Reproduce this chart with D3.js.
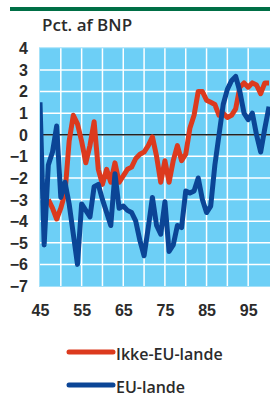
<!DOCTYPE html>
<html>
<head>
<meta charset="utf-8">
<script src="https://cdn.jsdelivr.net/npm/d3@7"></script>
<style>
  body { margin: 0; background: #fff; }
  svg { display: block; font-family: "Open Sans", "Noto Sans", sans-serif; }
  .tick text { fill: #2b2b2b; font-size: 16px; font-weight: 600; }
  .domain { display: none; }
</style>
</head>
<body>
<div id="chart"></div>
<script>
// Budgetsaldo, pct. af BNP
var years = d3.range(1945, 2001);
var euLande = [1.5, -5.1, -1.4, -0.8, 0.4, -2.9, -2.2, -3.2, -4.6, -6.0,
  -3.2, -3.5, -3.8, -2.4, -2.3, -3.0, -3.6, -4.2, -1.8, -3.4,
  -3.3, -3.5, -3.6, -4.0, -4.9, -5.6, -4.3, -2.9, -4.2, -4.6,
  -3.1, -5.4, -5.1, -4.2, -4.3, -2.6, -2.7, -2.6, -2.0, -3.0,
  -3.6, -3.3, -1.4, 0.0, 1.4, 2.1, 2.5, 2.7, 2.0, 1.0,
  0.7, 1.0, 0.0, -0.8, 0.3, 1.3];
var ikkeEuLande = [null, null, -3.0, -3.4, -3.9, -3.4, -2.7, -0.3, 0.9, 0.5,
  -0.3, -1.3, -0.5, 0.6, -1.6, -2.3, -1.6, -2.2, -1.3, -2.2,
  -1.9, -1.6, -1.5, -1.1, -0.9, -0.8, -0.5, -0.1, -1.0, -2.2,
  -1.2, -2.2, -1.2, -0.5, -1.2, -0.9, 0.3, 0.9, 2.0, 2.0,
  1.6, 1.5, 1.4, 0.9, 1.0, 0.8, 0.9, 1.2, 2.2, 2.4,
  2.2, 2.4, 2.3, 1.9, 2.4, 2.4];
var yTicks = [4, 3, 2, 1, 0, -1, -2, -3, -4, -5, -6, -7];
var xLabels = [1945, 1955, 1965, 1975, 1985, 1995];
var xGrid = [1950, 1955, 1960, 1965, 1970, 1975, 1980, 1985, 1990, 1995];
var series = [
  { name: "Ikke-EU-lande", values: ikkeEuLande, color: "#dc3a1e" },
  { name: "EU-lande", values: euLande, color: "#0b4596" }
];

var width = 270, height = 394;
var plot = { left: 40, right: 270, top: 48.3, bottom: 286 };

var x = d3.scaleLinear().domain([1945, 2000]).range([plot.left, 269]);
var y = d3.scaleLinear().domain([-7, 4]).range([plot.bottom, plot.top]);

var svg = d3.select("#chart").append("svg")
  .attr("width", width)
  .attr("height", height);

// green rule on top
svg.append("rect")
  .attr("x", 10).attr("y", 7)
  .attr("width", width - 10).attr("height", 4)
  .attr("fill", "#006f46");

svg.append("text")
  .attr("x", 42).attr("y", 30.5)
  .attr("fill", "#2b2b2b")
  .style("font-size", "17px")
  .style("font-weight", 600)
  .text("Pct. af BNP");

svg.append("clipPath").attr("id", "clip")
  .append("rect")
    .attr("x", plot.left).attr("y", plot.top)
    .attr("width", plot.right - plot.left)
    .attr("height", plot.bottom - plot.top);

svg.append("rect")
  .attr("x", plot.left - 0.5).attr("y", plot.top - 0.5)
  .attr("width", plot.right - plot.left + 1)
  .attr("height", plot.bottom - plot.top + 1)
  .attr("fill", "#6dcff6")
  .attr("stroke", "#a4e1f9")
  .attr("stroke-width", 1);

// grid
var grid = svg.append("g");
grid.selectAll("line.h")
  .data(yTicks.filter(d => d > -7 && d < 4))
  .enter().append("line")
    .attr("x1", plot.left).attr("x2", plot.right)
    .attr("y1", d => y(d)).attr("y2", d => y(d))
    .attr("stroke", "#fff").attr("stroke-width", 1.5);
grid.selectAll("line.v")
  .data(xGrid)
  .enter().append("line")
    .attr("x1", d => x(d)).attr("x2", d => x(d))
    .attr("y1", plot.top).attr("y2", plot.bottom)
    .attr("stroke", "#fff").attr("stroke-width", 1.5);

svg.append("line")
  .attr("x1", plot.left).attr("x2", plot.right)
  .attr("y1", y(0)).attr("y2", y(0))
  .attr("stroke", "#222").attr("stroke-width", 1.5);

// axes (labels only)
svg.append("g")
  .attr("transform", "translate(" + (plot.left - 12) + ",0)")
  .call(d3.axisLeft(y).tickValues(yTicks).tickSize(0).tickPadding(0))
  .call(g => g.selectAll(".tick text").attr("dy", "0.34em"));

svg.append("g")
  .attr("transform", "translate(0," + (plot.bottom + 19) + ")")
  .call(d3.axisBottom(x).tickValues(xLabels).tickSize(0).tickPadding(0)
    .tickFormat(d => String(d).slice(2)));

var line = d3.line()
  .defined(d => d[1] != null)
  .x(d => x(d[0]))
  .y(d => y(d[1]));

svg.append("g").attr("clip-path", "url(#clip)")
  .selectAll("path")
  .data(series)
  .enter().append("path")
    .attr("d", s => line(years.map((yr, i) => [yr, s.values[i]])))
    .attr("fill", "none")
    .attr("stroke", s => s.color)
    .attr("stroke-width", 5)
    .attr("stroke-linejoin", "round");

// legend
var legend = svg.selectAll("g.legend")
  .data(series)
  .enter().append("g")
    .attr("class", "legend")
    .attr("transform", (d, i) => "translate(0," + (352 + i * 33) + ")");
legend.append("line")
  .attr("x1", 69).attr("x2", 113)
  .attr("stroke", d => d.color)
  .attr("stroke-width", 5)
  .attr("stroke-linecap", "round");
legend.append("text")
  .attr("x", 116).attr("y", 7.5)
  .attr("fill", "#2b2b2b")
  .style("font-size", "16px")
  .style("font-weight", 600)
  .text(d => d.name);
</script>
</body>
</html>
